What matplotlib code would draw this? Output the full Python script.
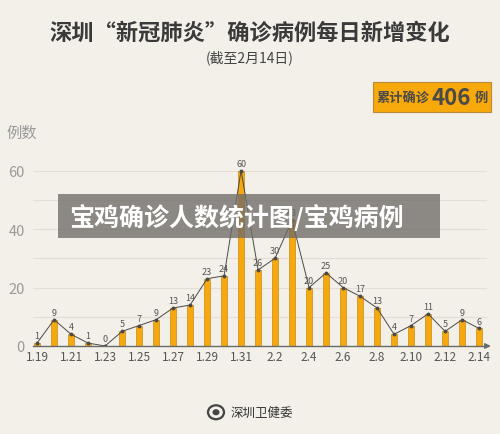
import matplotlib
matplotlib.use("Agg")
import matplotlib.pyplot as plt
from matplotlib.patches import Rectangle, Circle

plt.rcParams['font.family'] = ['Noto Sans CJK SC', 'DejaVu Sans']

dates = ["1.19", "1.20", "1.21", "1.22", "1.23", "1.24", "1.25", "1.26", "1.27",
         "1.28", "1.29", "1.30", "1.31", "2.1", "2.2", "2.3", "2.4", "2.5", "2.6",
         "2.7", "2.8", "2.9", "2.10", "2.11", "2.12", "2.13", "2.14"]
cases = [1, 9, 4, 1, 0, 5, 7, 9, 13, 14, 23, 24, 60, 26, 30, 43, 20, 25, 20,
         17, 13, 4, 7, 11, 5, 9, 6]
yticks = [0, 20, 40, 60]

BG = "#f3efe9"
fig = plt.figure(figsize=(5, 4.35), dpi=100, facecolor=BG)
ax = fig.add_axes([0.066, 0.2023, 0.918, 0.4437], facecolor=BG)

x = list(range(len(dates)))
ax.set_xlim(-0.24, 26.76)
ax.set_ylim(0, 66)

for g in range(10, 61, 10):
    ax.plot([-0.24, 26.4], [g, g], color="#e4ded6", lw=0.8, zorder=0)

ax.bar(x, cases, width=0.38, color="#f6a90f", edgecolor="#c98a10", linewidth=0.5, zorder=2)
ax.plot(x, cases, color="#4a4a4a", lw=0.7, marker="o", markersize=1.8, zorder=3)
for xi, v in zip(x, cases):
    ax.text(xi, v + 1.0, str(v), ha="center", va="bottom", fontsize=6.5, color="#555555", zorder=4)

for s in ["top", "right", "left", "bottom"]:
    ax.spines[s].set_visible(False)
ax.plot([-0.24, 26.5], [0, 0], color="#6a6a6a", lw=1.0, zorder=3, clip_on=False)
ax.annotate("", xy=(26.85, 0), xytext=(26.3, 0),
            arrowprops=dict(arrowstyle="-|>", color="#6a6a6a", lw=1.0, mutation_scale=8),
            annotation_clip=False)

ax.set_yticks(yticks)
ax.set_yticklabels([str(t) for t in yticks], fontsize=10.5, color="#9a9a9a")
ax.tick_params(axis="y", length=0, pad=6)
ax.set_xticks(x[::2])
ax.set_xticklabels(dates[::2], fontsize=8.5, color="#555555")
ax.tick_params(axis="x", length=0, pad=3)

# Titles
fig.text(0.5, 0.924, "深圳“新冠肺炎”确诊病例每日新增变化", ha="center", va="center",
         fontsize=16, fontweight="bold", color="#3a3a3a")
fig.text(0.5, 0.867, "(截至2月14日)", ha="center", va="center", fontsize=10, color="#444444")
fig.text(0.012, 0.694, "例数", ha="left", va="center", fontsize=11, color="#9a9a9a")

# Total box
fig.patches.append(Rectangle((0.746, 0.740), 0.236, 0.069, transform=fig.transFigure,
                             facecolor="#f7a80a", edgecolor="#b98a3a", lw=0.8, zorder=5))
fig.text(0.754, 0.7745, "累计确诊", ha="left", va="center", fontsize=9.5,
         fontweight="bold", color="#4a4a4a", zorder=6)
fig.text(0.862, 0.7745, "406", ha="left", va="center", fontsize=16,
         fontweight="bold", color="#4a4a4a", zorder=6)
fig.text(0.949, 0.7745, "例", ha="left", va="center", fontsize=9.5,
         fontweight="bold", color="#4a4a4a", zorder=6)

# Overlay banner
fig.patches.append(Rectangle((0.116, 0.4506), 0.764, 0.1011, transform=fig.transFigure,
                             facecolor="#6f6b67", alpha=0.78, edgecolor="none", zorder=10))
fig.text(0.138, 0.500, "宝鸡确诊人数统计图/宝鸡病例", ha="left", va="center",
         fontsize=18, fontweight="bold", color="white", zorder=11)

# Footer logo
fig.patches.append(Circle((0.432, 0.050), 0.016, transform=fig.transFigure,
                          facecolor="#f3efe9", edgecolor="#444444", lw=1.6, zorder=5))
fig.patches.append(Circle((0.432, 0.050), 0.007, transform=fig.transFigure,
                          facecolor="#444444", edgecolor="none", zorder=6))
fig.text(0.462, 0.050, "深圳卫健委", ha="left", va="center", fontsize=9, color="#333333")

fig.savefig("out.png", dpi=100, facecolor=BG)
